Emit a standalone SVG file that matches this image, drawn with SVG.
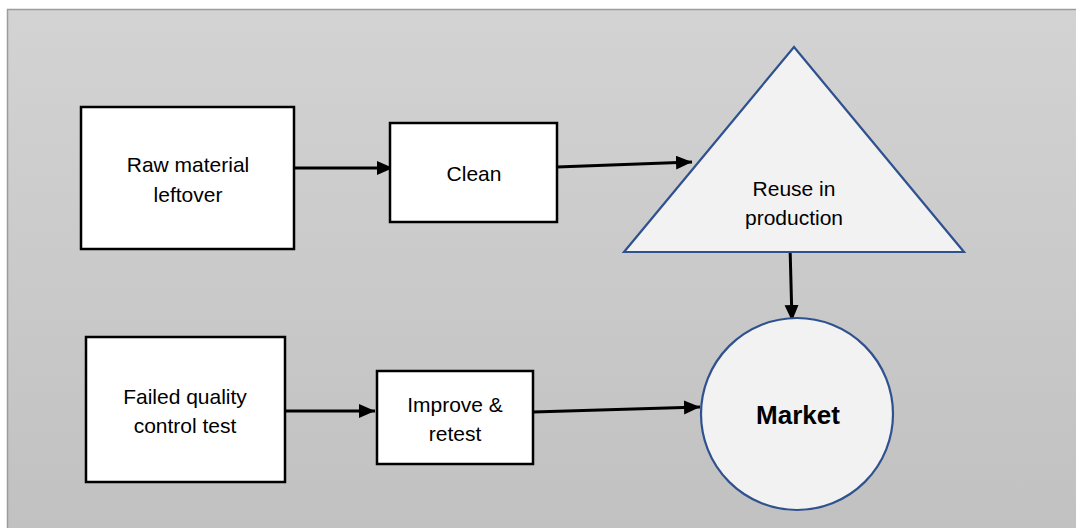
<svg xmlns="http://www.w3.org/2000/svg" width="1076" height="528" viewBox="0 0 1076 528">
  <style>
    .box { fill: #ffffff; stroke: #000000; stroke-width: 2.5; }
    .shape { fill: #f2f2f2; stroke: #2f528f; stroke-width: 2.2; }
    .label { font-family: "Liberation Sans", Arial, sans-serif; font-size: 21px; fill: #000000; text-anchor: middle; }
    .bold { font-weight: bold; font-size: 26px; }
    .edge { fill: none; stroke: #000000; stroke-width: 3; marker-end: url(#arrow); }
  </style>
  <defs>
    <linearGradient id="panelFill" x1="0" y1="0" x2="0" y2="1">
      <stop offset="0" stop-color="#d3d3d3"/>
      <stop offset="1" stop-color="#c1c1c1"/>
    </linearGradient>
    <marker id="arrow" markerUnits="userSpaceOnUse" markerWidth="17" markerHeight="15" refX="16" refY="7" orient="auto">
      <path d="M0,0 L16,7 L0,14 z" fill="#000000"/>
    </marker>
  </defs>

  <!-- page background and grey panel -->
  <rect x="0" y="0" width="1076" height="528" fill="#ffffff"/>
  <rect x="7.5" y="9.5" width="1070" height="520" fill="url(#panelFill)" stroke="#9c9c9c" stroke-width="1.5"/>

  <g id="connectors">
    <line class="edge" x1="294" y1="168" x2="393" y2="168"/>
    <line class="edge" x1="557" y1="167" x2="692" y2="162"/>
    <line class="edge" x1="790" y1="246" x2="792" y2="321"/>
    <line class="edge" x1="285" y1="411" x2="375" y2="411"/>
    <line class="edge" x1="533" y1="412" x2="700" y2="407"/>
  </g>

  <g id="raw-material">
    <rect class="box" x="81" y="107" width="213" height="142"/>
    <text class="label" x="188" y="172">Raw material</text>
    <text class="label" x="188" y="202">leftover</text>
  </g>

  <g id="clean">
    <rect class="box" x="390" y="123" width="167" height="99"/>
    <text class="label" x="474" y="181">Clean</text>
  </g>

  <g id="reuse">
    <polygon class="shape" points="794,47 964,252 624,252"/>
    <text class="label" x="794" y="196">Reuse in</text>
    <text class="label" x="794" y="225">production</text>
  </g>

  <g id="failed-test">
    <rect class="box" x="86" y="337" width="199" height="145"/>
    <text class="label" x="185" y="404">Failed quality</text>
    <text class="label" x="185" y="433">control test</text>
  </g>

  <g id="improve">
    <rect class="box" x="377" y="371" width="156" height="93"/>
    <text class="label" x="455" y="412">Improve &amp;</text>
    <text class="label" x="455" y="441">retest</text>
  </g>

  <g id="market">
    <circle class="shape" cx="797" cy="414" r="96"/>
    <text class="label bold" x="798" y="424">Market</text>
  </g>
</svg>
